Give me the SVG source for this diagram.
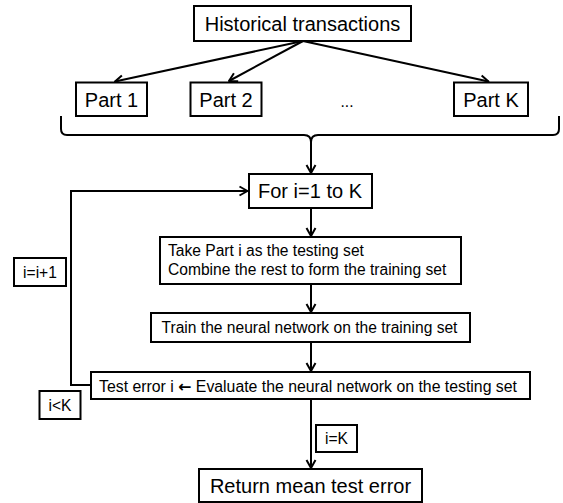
<svg xmlns="http://www.w3.org/2000/svg" width="563" height="503" viewBox="0 0 563 503">
<defs>
<style>
.box{fill:#fff;stroke:#000;stroke-width:2}
.ln{fill:none;stroke:#000;stroke-width:2}
.t20{font-family:"Liberation Sans",Arial,sans-serif;font-size:20px;fill:#000;text-anchor:middle}
.t15{font-family:"Liberation Sans",Arial,"DejaVu Sans",sans-serif;font-size:15.6px;fill:#000}
.mid{text-anchor:middle}
.arw{font-family:"DejaVu Sans",sans-serif;font-weight:bold}
</style>
<marker id="ah" markerWidth="12" markerHeight="12" viewBox="-10 -6 12 12" refX="0" refY="0" orient="auto" markerUnits="userSpaceOnUse">
<path d="M-8,-4.5 L0,0 L-8,4.5" fill="none" stroke="#000" stroke-width="2" stroke-linejoin="round"/>
</marker>
</defs>
<rect width="563" height="503" fill="#fff"/>
<g id="connectors">
<line class="ln" x1="303" y1="41" x2="115" y2="81.5" marker-end="url(#ah)"/>
<line class="ln" x1="303" y1="41" x2="229" y2="81" marker-end="url(#ah)"/>
<line class="ln" x1="303" y1="41" x2="488.5" y2="81.5" marker-end="url(#ah)"/>
<path class="ln" d="M61,116 L61,129 Q61,135 67,135 L304,135 Q311,135 311,142 Q311,135 318,135 L553,135 Q559,135 559,129 L559,116"/>
<line class="ln" x1="311" y1="142" x2="311" y2="173" marker-end="url(#ah)"/>
<line class="ln" x1="311" y1="208" x2="311" y2="236" marker-end="url(#ah)"/>
<line class="ln" x1="311" y1="284" x2="311" y2="312" marker-end="url(#ah)"/>
<line class="ln" x1="311" y1="342" x2="311" y2="371" marker-end="url(#ah)"/>
<line class="ln" x1="311" y1="399" x2="311" y2="468" marker-end="url(#ah)"/>
<path class="ln" d="M91,385 L71,385 L71,191 L247.5,191" marker-end="url(#ah)"/>
</g>
<g id="historical">
<rect class="box" x="194" y="6" width="217" height="35"/>
<text class="t20" x="302.5" y="31">Historical transactions</text>
</g>
<g id="part1">
<rect class="box" x="76" y="82.5" width="71" height="33.5"/>
<text class="t20" x="111.5" y="106.5">Part 1</text>
</g>
<g id="part2">
<rect class="box" x="190.5" y="82.5" width="71" height="33.5"/>
<text class="t20" x="226" y="106.5">Part 2</text>
</g>
<g id="dots">
<text class="t15 mid" x="347" y="107">...</text>
</g>
<g id="partK">
<rect class="box" x="454" y="82.5" width="74" height="33.5"/>
<text class="t20" x="491" y="106.5">Part K</text>
</g>
<g id="forloop">
<rect class="box" x="249" y="174" width="123" height="34"/>
<text class="t20" x="310" y="198">For i=1 to K</text>
</g>
<g id="take">
<rect class="box" x="160" y="237" width="301" height="47"/>
<text class="t15" x="168" y="256">Take Part i as the testing set</text>
<text class="t15" x="168" y="275">Combine the rest to form the training set</text>
</g>
<g id="train">
<rect class="box" x="151" y="313" width="319" height="29"/>
<text class="t15 mid" x="309.5" y="333">Train the neural network on the training set</text>
</g>
<g id="test">
<rect class="box" x="91" y="372" width="439" height="27"/>
<text class="t15 mid" x="308" y="391.5" textLength="418" lengthAdjust="spacingAndGlyphs">Test error i <tspan class="arw">←</tspan> Evaluate the neural network on the testing set</text>
</g>
<g id="inc">
<rect class="box" x="14" y="258" width="52" height="28"/>
<text class="t15 mid" x="40" y="277.5">i=i+1</text>
</g>
<g id="lessK">
<rect class="box" x="39.5" y="391" width="41" height="28"/>
<text class="t15 mid" x="60" y="410.5">i&lt;K</text>
</g>
<g id="eqK">
<rect class="box" x="316" y="425" width="41" height="27"/>
<text class="t15 mid" x="336.5" y="444">i=K</text>
</g>
<g id="return">
<rect class="box" x="199" y="469" width="223" height="33"/>
<text class="t20" x="310.5" y="493">Return mean test error</text>
</g>
</svg>
